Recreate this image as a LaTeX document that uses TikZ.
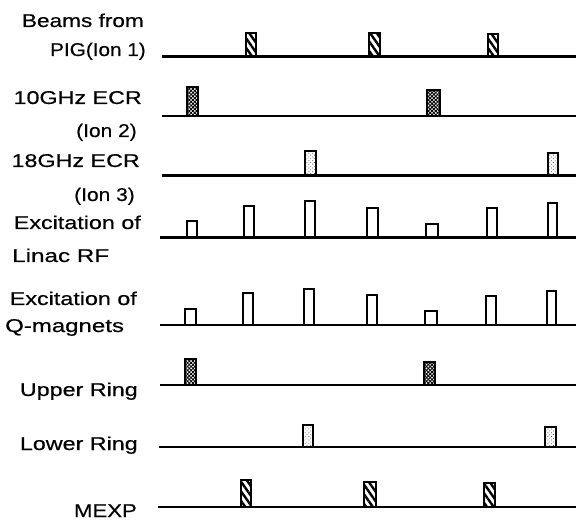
\documentclass[tikz,border=0pt]{standalone}
\usepackage{graphicx}
\usepackage{fontspec}
\setmainfont{Liberation Sans}
\newfontfamily\lblfont[FakeStretch=1.26,FakeBold=0.5]{Liberation Sans}
\usetikzlibrary{patterns,patterns.meta}
\begin{document}
\begin{tikzpicture}[x=1pt,y=-1pt,
  lbl/.style={font=\lblfont\fontsize{18.5}{22}\selectfont, inner sep=0pt, anchor=base east},
  lblw/.style={lbl, anchor=base west},
  baseln/.style={line width=2.8pt},
  pulse/.style={draw, line width=2.4pt, fill=white},
  hatchfill/.style={pulse, pattern={Lines[angle=-55,distance=5.5pt,line width=2.4pt]}},
  checkfill/.style={pulse, pattern={Hatch[angle=45,distance=2.6pt,line width=0.9pt]}},
  dotfill/.style={pulse, pattern={Dots[angle=45,distance=2.6pt,radius=0.55pt]}, pattern color=black!70},
]
\useasboundingbox (0,0) rectangle (576,521);

% labels
\node[lbl] (l1a) at (144,27) {\scalebox{0.97}[1]{Beams from}};
\node[lbl] (l1b) at (146,56) {\scalebox{0.89}[1]{PIG(Ion 1)}};
\node[lbl] (l2a) at (142,104) {10GHz ECR};
\node[lbl] (l2b) at (137,137) {\scalebox{0.9}[1]{(Ion 2)}};
\node[lbl] (l3a) at (140,167) {18GHz ECR};
\node[lbl] (l3b) at (135,201) {\scalebox{0.9}[1]{(Ion 3)}};
\node[lbl] (l4a) at (141,229) {Excitation of};
\node[lblw] (l4b) at (12,262) {\scalebox{1.04}[1]{Linac RF}};
\node[lbl] (l5a) at (137,305) {Excitation of};
\node[lblw] (l5b) at (5,332) {\scalebox{1.03}[1]{Q-magnets}};
\node[lbl] (l6) at (138,396) {Upper Ring};
\node[lbl] (l7) at (138,450) {Lower Ring};
\node[lbl] (l8) at (137,517) {\scalebox{0.95}[1]{MEXP}};

% baselines
\foreach \n/\xs/\y in {1/162/56.5, 2/162/116, 3/162/175.5, 4/160/237.5, 5/160/325, 6/160/385, 7/159/447, 8/158/507}{
  \coordinate (s\n) at (\xs,\y);
  \coordinate (e\n) at (576,\y);
  \draw[baseln] (s\n) -- (e\n);
}

% row 1: PIG
\foreach \a/\b/\t in {245/257/32, 368/381/32, 487/499/33}
  \draw[hatchfill] (\a+1.2,56.5) rectangle (\b-1.2,\t+1.2);
% row 2: 10GHz ECR
\foreach \a/\b/\t in {186/199/86, 426/441/89}
  \draw[checkfill] (\a+1.2,116) rectangle (\b-1.2,\t+1.2);
% row 3: 18GHz ECR
\foreach \a/\b/\t in {304/317/150, 547/559/152}
  \draw[dotfill] (\a+1.2,175.5) rectangle (\b-1.2,\t+1.2);
% row 4: Linac RF
\foreach \a/\b/\t in {186/198/220, 243/255/205, 304/316/200, 366/379/207, 425/439/223, 486/498/207, 547/558/202}
  \draw[pulse] (\a+1.2,237.5) rectangle (\b-1.2,\t+1.2);
% row 5: Q-magnets
\foreach \a/\b/\t in {184/197/308, 242/254/292, 303/315/288, 366/378/294, 424/438/310, 485/497/295, 546/557/290}
  \draw[pulse] (\a+1.2,325) rectangle (\b-1.2,\t+1.2);
% row 6: Upper Ring
\foreach \a/\b/\t in {184/197/358, 423/436/361}
  \draw[checkfill] (\a+1.2,385) rectangle (\b-1.2,\t+1.2);
% row 7: Lower Ring
\foreach \a/\b/\t in {302/314/424, 544/557/426}
  \draw[dotfill] (\a+1.2,447) rectangle (\b-1.2,\t+1.2);
% row 8: MEXP
\foreach \a/\b/\t in {240/252/479, 363/377/481, 483/496/482}
  \draw[hatchfill] (\a+1.2,507) rectangle (\b-1.2,\t+1.2);
\end{tikzpicture}
\end{document}
